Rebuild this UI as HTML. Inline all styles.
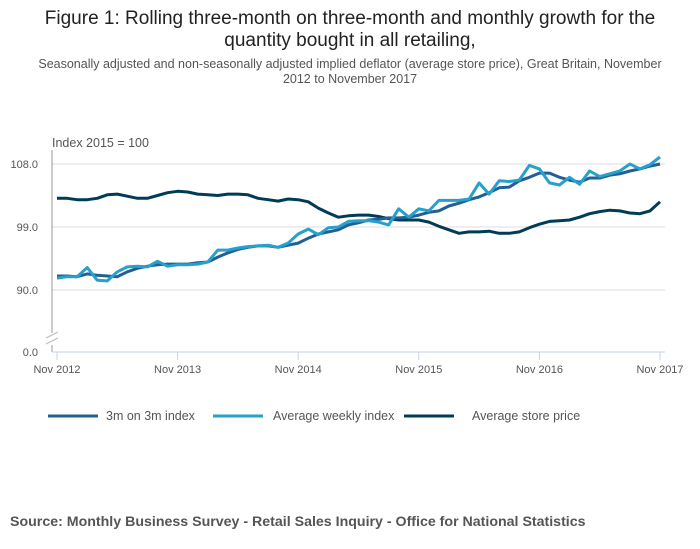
<!DOCTYPE html>
<html><head><meta charset="utf-8"><style>
body{margin:0;background:#fff;font-family:"Liberation Sans",sans-serif;}
#wrap{position:relative;width:700px;height:549px;overflow:hidden}
</style></head><body>
<div id="wrap">
<svg id="chart" width="700" height="549" xmlns="http://www.w3.org/2000/svg">
<text x="350" y="24" text-anchor="middle" font-size="19" fill="#222">Figure 1: Rolling three-month on three-month and monthly growth for the</text>
<text x="350" y="46" text-anchor="middle" font-size="19" fill="#222">quantity bought in all retailing,</text>
<text x="350" y="68" text-anchor="middle" font-size="12.5" fill="#555">Seasonally adjusted and non-seasonally adjusted implied deflator (average store price), Great Britain, November</text>
<text x="350" y="83" text-anchor="middle" font-size="12.5" fill="#555">2012 to November 2017</text>
<text x="52" y="147" font-size="12.5" fill="#555">Index 2015 = 100</text>
<g id="grid"></g><g id="axes"></g><g id="series"></g>
<g>
<line x1="48" y1="416" x2="98" y2="416" stroke="#206095" stroke-width="3"/>
<text x="106" y="420" font-size="12.5" fill="#555">3m on 3m index</text>
<line x1="213" y1="416" x2="263" y2="416" stroke="#27a0cc" stroke-width="3"/>
<text x="273" y="420" font-size="12.5" fill="#555">Average weekly index</text>
<line x1="404" y1="416" x2="454" y2="416" stroke="#003c57" stroke-width="3"/>
<text x="472" y="420" font-size="12.5" fill="#555">Average store price</text>
</g>
<text x="10" y="526" font-size="14.2" font-weight="bold" fill="#555">Source: Monthly Business Survey - Retail Sales Inquiry - Office for National Statistics</text>
</svg>
</div>
<script>
const xLabels=["Nov 2012","Nov 2013","Nov 2014","Nov 2015","Nov 2016","Nov 2017"];
const yTicks=[90,99,108];
const threeMonth=[92.0,92.0,91.9,92.3,92.1,92.0,91.9,92.6,93.1,93.4,93.6,93.7,93.7,93.7,93.9,94.0,94.7,95.3,95.8,96.1,96.3,96.3,96.1,96.4,96.7,97.4,98.0,98.3,98.6,99.3,99.6,100.0,100.1,100.3,100.3,100.4,100.7,101.1,101.3,102.0,102.4,102.9,103.3,103.9,104.6,104.7,105.6,106.1,106.7,106.7,106.1,105.7,105.4,106.0,106.0,106.4,106.6,107.0,107.3,107.7,108.0];
const weekly=[91.7,91.9,91.9,93.2,91.4,91.3,92.6,93.3,93.4,93.3,94.1,93.4,93.6,93.6,93.7,94.0,95.7,95.7,96.0,96.2,96.3,96.4,96.1,96.7,98.0,98.7,97.9,98.9,99.0,99.8,99.9,99.9,99.7,99.3,101.6,100.4,101.6,101.3,102.8,102.8,102.8,103.0,105.3,103.7,105.6,105.5,105.7,107.8,107.3,105.3,105.0,106.1,105.1,107.0,106.2,106.6,107.0,108.0,107.3,107.9,109.0];
const storePrice=[103.1,103.1,102.9,102.9,103.1,103.6,103.7,103.4,103.1,103.1,103.5,103.9,104.1,104.0,103.7,103.6,103.5,103.7,103.7,103.6,103.1,102.9,102.7,103.0,102.9,102.6,101.7,101.0,100.4,100.6,100.7,100.7,100.5,100.2,100.0,100.0,100.0,99.7,99.1,98.6,98.1,98.3,98.3,98.4,98.1,98.1,98.3,98.9,99.4,99.8,99.9,100.0,100.4,100.9,101.2,101.4,101.3,101.0,100.9,101.3,102.6];

const NS="http://www.w3.org/2000/svg";
const X0=57,X1=660,left=52,right=665,base=352;
function xs(i){return X0+(X1-X0)*i/(threeMonth.length-1);}
function ys(v){return v<=0?base:290-(v-90)*7;}
function mk(tag,attrs,parent){const e=document.createElementNS(NS,tag);for(const k in attrs)e.setAttribute(k,attrs[k]);parent.appendChild(e);return e;}
const grid=document.getElementById('grid'),axes=document.getElementById('axes'),ser=document.getElementById('series');
yTicks.forEach(t=>{
  const l=mk('line',{x1:left,x2:right,y1:ys(t),y2:ys(t),stroke:'#dcdcdc','stroke-width':1},grid);
  
  
  const tx=mk('text',{x:38,y:ys(t)+4,'font-size':11,fill:'#555','text-anchor':'end'},axes);
  tx.textContent=t.toFixed(1);
  
  
});
const z=mk('text',{x:38,y:base+4,'font-size':11,fill:'#555','text-anchor':'end'},axes);z.textContent="0.0";


const ya=mk('path',{d:`M${left},150V333M${left},345V${base}`,stroke:'#999','stroke-width':1,fill:'none'},axes);


mk('path',{d:`M46,338L58,332M46,344L58,338`,stroke:'#bbb','stroke-width':1,fill:'none'},axes);
const xa=mk('line',{x1:left,x2:right,y1:base,y2:base,stroke:'#c6d3e6','stroke-width':1},axes);


xLabels.forEach((lab,k)=>{
  const x=xs(k*12);
  mk('line',{x1:x,x2:x,y1:base,y2:base+8,stroke:'#c6d3e6'},axes);
  const t=mk('text',{x:x,y:base+21,'font-size':11,fill:'#555','text-anchor':'middle'},axes);
  t.textContent=lab;
  
  
});
[[storePrice,'#003c57','series-average-store-price'],[threeMonth,'#206095','series-3m-on-3m-index'],[weekly,'#27a0cc','series-average-weekly-index']].forEach(([d,c,n])=>{
  const p=mk('path',{d:d.map((v,i)=>(i?'L':'M')+xs(i).toFixed(1)+','+ys(v).toFixed(1)).join(''),stroke:c,'stroke-width':3,fill:'none','stroke-linejoin':'round'},ser);
  
  
});
</script>
</body></html>
